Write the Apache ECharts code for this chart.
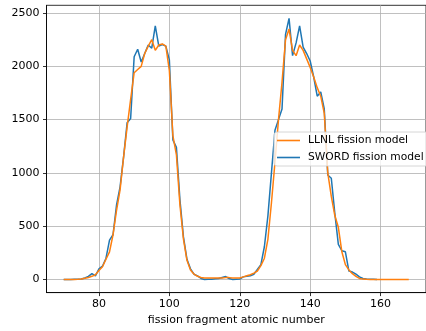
<!DOCTYPE html>
<html><head><meta charset="utf-8">
<script src="https://cdn.jsdelivr.net/npm/echarts@6/dist/echarts.min.js"></script>
<style>html,body{margin:0;padding:0;background:#fff}#c{width:426px;height:331px}</style>
</head><body><div id="c"></div>
<script>
const llnlStart = 70;
const llnlValues = [0,0,0,1,3,6,12,20,30,45,
  85,120,190,260,420,650,840,1150,1430,1690,
  1940,1970,2000,2120,2190,2250,2150,2200,2210,2190,
  1960,1350,1170,700,380,180,90,50,30,20,
  15,15,15,15,15,15,18,18,15,15,
  15,25,35,45,60,80,130,200,380,720,
  1100,1500,1850,2250,2350,2150,2100,2200,2150,2070,
  1990,1900,1800,1720,1560,1000,780,600,490,260,
  140,90,55,30,10,4,2,1,1,1,
  1,1,1,1,1,1,1,1,1];
const swordStart = 70;
const swordValues = [0,0,1,2,3,5,15,30,55,35,
  100,125,200,370,420,700,870,1150,1470,1510,
  2090,2160,2040,2120,2200,2170,2380,2190,2205,2190,
  2060,1310,1240,750,400,190,100,50,35,10,
  0,2,3,8,10,20,28,10,0,3,
  5,25,30,35,50,95,140,310,600,1000,
  1400,1500,1600,2300,2450,2100,2220,2380,2180,2120,
  2050,1900,1720,1760,1600,980,950,620,330,270,
  260,80,70,50,25,10,5,3,2,0];
const xTicks = [80,100,120,140,160];
const yTicks = [0,500,1000,1500,2000,2500];
const seriesNames = ['LLNL fission model','SWORD fission model'];
const xTitle = 'fission fragment atomic number';

const toPairs = (start, vals) => vals.map((v,i)=>[start+i, v]);
const font = 'DejaVu Sans';
const fs = 11;
const chart = echarts.init(document.getElementById('c'), null, {renderer:'canvas'});
chart.setOption({
  animation:false,
  backgroundColor:'#fff',
  grid:{left:46.5, top:5.3, bottom:37.7, right:-10.5, show:true, borderColor:'#000', borderWidth:0.8, backgroundColor:'transparent'},
  xAxis:{type:'value', min:65.1, max:172.9,
    name:xTitle, nameLocation:'middle', nameGap:21,
    nameTextStyle:{fontFamily:font, fontSize:fs, color:'#000'},
    axisLine:{show:true, onZero:false, lineStyle:{color:'#000', width:0.8}},
    axisTick:{show:true, inside:false, length:3.5, lineStyle:{color:'#000', width:0.8}, customValues:xTicks},
    axisLabel:{fontFamily:font, fontSize:fs, color:'#000', margin:6.5, customValues:xTicks, formatter:v=>String(v)},
    splitLine:{show:true, lineStyle:{color:'#b0b0b0', width:0.8}}
  },
  yAxis:{type:'value', min:-122.5, max:2572.5,
    axisLine:{show:true, onZero:false, lineStyle:{color:'#000', width:0.8}},
    axisTick:{show:true, inside:false, length:3.5, lineStyle:{color:'#000', width:0.8}, customValues:yTicks},
    axisLabel:{fontFamily:font, fontSize:fs, color:'#000', margin:7, customValues:yTicks, formatter:v=>String(v)},
    splitLine:{show:true, lineStyle:{color:'#b0b0b0', width:0.8}}
  },
  legend:{orient:'vertical', left:274, top:132, padding:[3,40,3,3], itemGap:6,
    itemWidth:23, itemHeight:1.6, icon:'rect',
    backgroundColor:'rgba(255,255,255,0.8)', borderColor:'#cccccc', borderWidth:0.8, borderRadius:3,
    textStyle:{fontFamily:font, fontSize:10.7, color:'#000', padding:[0,0,0,3]},
    data:seriesNames},
  series:[
    {name:seriesNames[1], type:'line', data:toPairs(swordStart, swordValues), symbol:'none', lineStyle:{color:'#1f77b4', width:1.5}, itemStyle:{color:'#1f77b4'}},
    {name:seriesNames[0], type:'line', data:toPairs(llnlStart, llnlValues), symbol:'none', lineStyle:{color:'#ff7f0e', width:1.5}, itemStyle:{color:'#ff7f0e'}}
  ]
});
</script></body></html>
